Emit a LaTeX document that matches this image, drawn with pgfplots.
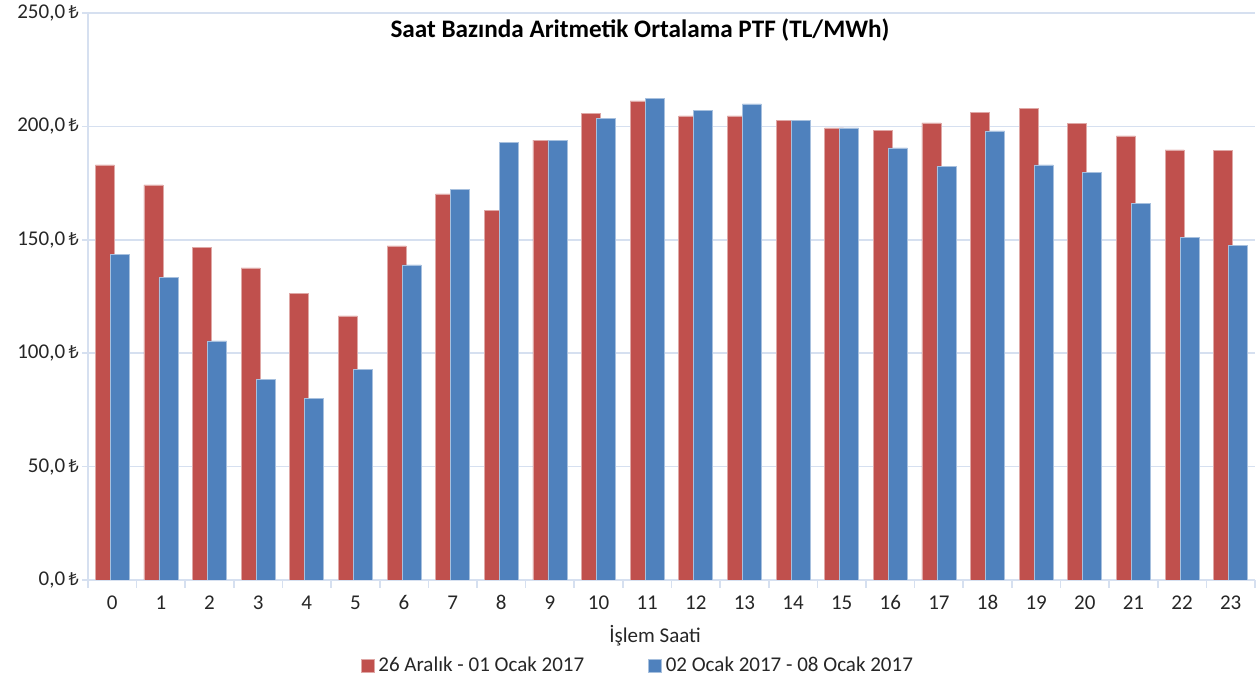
\documentclass[border=0pt]{standalone}
\usepackage{fontspec}
\setmainfont{Carlito}
\newfontfamily\lirafont{Noto Sans}
\usepackage{pgfplots}
\usepackage{pgfplotstable}
\pgfplotsset{compat=1.18}

\definecolor{redbar}{RGB}{192,80,77}
\definecolor{bluebar}{RGB}{79,129,189}
\definecolor{gridc}{RGB}{214,224,240}
\newcommand{\TL}{{\lirafont\fontsize{9}{10}\selectfont ₺}}

% hour, 26 Aralik - 01 Ocak, 02 Ocak - 08 Ocak
\pgfplotstableread{
h a b
0  183.0 143.7
1  174.2 133.2
2  146.8 105.4
3  137.6 88.6
4  126.5 80.2
5  116.4 93.0
6  147.3 138.9
7  170.2 172.0
8  163.1 193.1
9  194.0 194.0
10 205.9 203.7
11 211.2 212.5
12 204.6 207.2
13 204.6 209.9
14 202.8 202.8
15 199.3 199.3
16 198.4 190.5
17 201.5 182.5
18 206.3 198.0
19 208.1 183.0
20 201.1 179.5
21 195.8 166.2
22 189.6 151.2
23 189.2 147.7
}\ptf

\begin{document}
\begin{tikzpicture}
\path[use as bounding box] (-44pt,-51.5pt) rectangle (585pt,290pt);
\begin{axis}[
    scale only axis,
    width=583.5pt, height=283.5pt,
    xmin=-0.5, xmax=23.5, ymin=0, ymax=250,
    ybar, bar width=9.5pt,
    axis x line*=bottom, axis y line*=left,
    axis line style={gridc, line width=0.8pt},
    xtick={0,...,23},
    minor xtick={-0.5,0.5,...,23.5},
    ytick={0,50,...,250},
    yticklabels={{0,0\,\TL},{50,0\,\TL},{100,0\,\TL},{150,0\,\TL},{200,0\,\TL},{250,0\,\TL}},
    ymajorgrids,
    grid style={gridc, line width=0.8pt},
    tick align=outside,
    x tick style={draw=none},
    minor x tick style={draw=gridc, line width=0.8pt},
    minor tick length=4pt,
    y tick style={draw=gridc, line width=0.8pt},
    major tick length=3pt,
    /pgf/number format/assume math mode=true,
    tick label style={font=\fontsize{10.5}{12}\selectfont, text=black!85},
    x tick label style={text height=7pt, text depth=0pt, yshift=-1pt},
    y tick label style={xshift=2pt},
    xlabel={İşlem Saati},
    xlabel style={at={(axis description cs:0.486,-0.099)}, anchor=center,
                  font=\fontsize{10.5}{12}\selectfont, text=black!85},
    legend image code/.code={\fill[#1] (0pt,-3.2pt) rectangle (6.4pt,3.2pt);},
    legend style={at={(axis description cs:0.472,-0.152)}, anchor=center,
                  draw=none, legend columns=2,
                  font=\fontsize{10.5}{12}\selectfont, text=black!85,
                  /tikz/every even column/.append style={column sep=30pt}},
]
\addplot[fill=redbar, draw=redbar!50!white, line width=0.4pt, bar shift=-3.75pt]
    table[x=h, y=a] {\ptf};
\addlegendentry{26 Aralık - 01 Ocak 2017}
\addplot[fill=bluebar, draw=bluebar!50!white, line width=0.4pt, bar shift=3.75pt]
    table[x=h, y=b] {\ptf};
\addlegendentry{02 Ocak 2017 - 08 Ocak 2017}
\node[font=\bfseries\fontsize{12.6}{15}\selectfont] at (axis description cs:0.473,0.970)
    {Saat Bazında Aritmetik Ortalama PTF (TL/MWh)};
\end{axis}
\end{tikzpicture}
\end{document}
